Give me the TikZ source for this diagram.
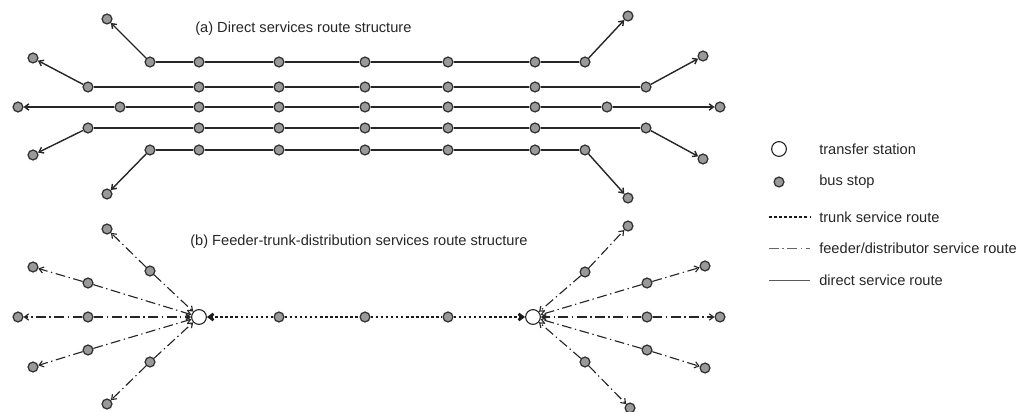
\documentclass[tikz,border=0pt]{standalone}
\usepackage{fontspec}
\setmainfont{Liberation Sans}
\usetikzlibrary{arrows.meta}

\begin{document}
\begin{tikzpicture}[x=0.025cm, y=-0.025cm,
  >={Straight Barb[length=3pt,width=4.5pt]},
  stop/.style={draw=black!80, fill=black!40, circle, line width=0.9pt, minimum size=7pt, inner sep=0pt},
  station/.style={draw=black!85, fill=white, circle, line width=0.8pt, minimum size=10.5pt, inner sep=0pt},
  direct/.style={draw=black!85, line width=1pt},
  feeder/.style={draw=black!85, line width=0.8pt, dash pattern=on 7pt off 2.5pt on 1pt off 2.5pt},
  trunk/.style={draw=black!90, line width=2pt, dash pattern=on 1.8pt off 1.8pt},
  label/.style={text=black!85, font=\fontsize{10.4}{12}\selectfont, inner sep=0pt}]
\useasboundingbox (0,0) rectangle (1019,412);

%(a) direct services
\node[label, anchor=west] at (195,29) (titlea) {(a) Direct services route structure};
\foreach \r/\y/\xl/\xr in {1/62/150/585, 2/87/88/646, 3/107/120/607, 4/128/88/646, 5/150/150/585}{
  \node[stop] at (\xl,\y) (d\r-0) {};
  \foreach \x [count=\i] in {199,279,365,448,535}
    \node[stop] at (\x,\y) (d\r-\i) {};
  \node[stop] at (\xr,\y) (d\r-6) {};
}
\node[stop] at (107,19) (d1-l) {};  \node[stop] at (628,16) (d1-r) {};
\node[stop] at (33,58) (d2-l) {};   \node[stop] at (703,56) (d2-r) {};
\node[stop] at (18,107) (d3-l) {};  \node[stop] at (720,107) (d3-r) {};
\node[stop] at (33,155) (d4-l) {};  \node[stop] at (703,159) (d4-r) {};
\node[stop] at (107,194) (d5-l) {}; \node[stop] at (628,198) (d5-r) {};
\foreach \r in {1,...,5}{
  \draw[direct,->] (d\r-0) -- (d\r-l);
  \draw[direct] (d\r-0) -- (d\r-1) -- (d\r-2) -- (d\r-3) -- (d\r-4) -- (d\r-5) -- (d\r-6);
  \draw[direct,->] (d\r-6) -- (d\r-r);
}

%(b) feeder-trunk-distribution
\node[label, anchor=west] at (190,242) (titleb) {(b) Feeder-trunk-distribution services route structure};
\node[station] at (199,317) (tsl) {};
\node[station] at (533,317) (tsr) {};
\foreach \x [count=\i] in {279,365,448}
  \node[stop] at (\x,317) (t\i) {};
\draw[trunk,->] (t1) -- (tsl);
\draw[trunk] (t1) -- (t2) -- (t3);
\draw[trunk,->] (t3) -- (tsr);

\foreach \mx/\my/\ex/\ey [count=\i] in {150/271/107/229, 88/283/33/267, 88/317/18/317, 88/350/33/367, 150/362/107/404}{
  \node[stop] at (\mx,\my) (fl\i) {};
  \node[stop] at (\ex,\ey) (fle\i) {};
  \draw[feeder,->] (fl\i) -- (tsl);
  \draw[feeder,->] (fl\i) -- (fle\i);
}
\foreach \mx/\my/\ex/\ey [count=\i] in {585/272/628/226, 647/283/705/266, 647/317/720/317, 647/350/705/368, 585/362/630/408}{
  \node[stop] at (\mx,\my) (fr\i) {};
  \node[stop] at (\ex,\ey) (fre\i) {};
  \draw[feeder,->] (fr\i) -- (tsr);
  \draw[feeder,->] (fr\i) -- (fre\i);
}

%legend
\node[station] at (779,149) (lgts) {};
\node[label, anchor=west] at (819,149) {transfer station};
\node[stop] at (779,182) (lgbs) {};
\node[label, anchor=west] at (819,182) {bus stop};
\coordinate (lgt1) at (769,217); \coordinate (lgt2) at (810,217);
\draw[trunk] (lgt1) -- (lgt2);
\node[label, anchor=west] at (819,217) {trunk service route};
\coordinate (lgf1) at (769,248); \coordinate (lgf2) at (810,248);
\draw[feeder, line width=0.6pt, draw=black!60] (lgf1) -- (lgf2);
\node[label, anchor=west] at (819,248) {feeder/distributor service route};
\coordinate (lgd1) at (769,280); \coordinate (lgd2) at (810,280);
\draw[direct, line width=0.7pt, draw=black!65] (lgd1) -- (lgd2);
\node[label, anchor=west] at (819,280) {direct service route};

\end{tikzpicture}
\end{document}
